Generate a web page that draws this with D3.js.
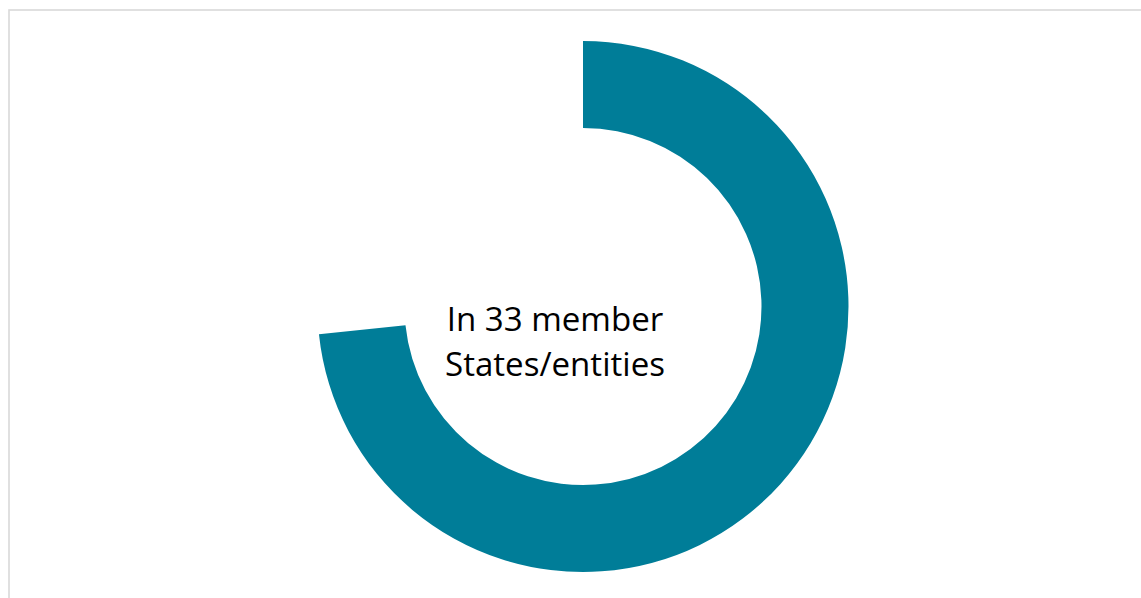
<!DOCTYPE html>
<html>
<head>
<meta charset="utf-8">
<script src="https://cdn.jsdelivr.net/npm/d3@7"></script>
<style>
  html, body { margin: 0; padding: 0; background: #ffffff; }
  svg { display: block; }
</style>
</head>
<body>
<svg id="chart" width="1141" height="598"></svg>
<script>
// Share of member States/entities (out of 45)
const categories = ["Member States/entities", "Remaining"];
const values = [33, 12];
const centerLines = ["In 33 member", "States/entities"];

const width = 1141, height = 598;
const svg = d3.select("#chart");

// Chart area frame (light grey, runs off the right and bottom edges)
svg.append("rect")
  .attr("x", 9).attr("y", 10)
  .attr("width", 1300).attr("height", 800)
  .attr("fill", "#ffffff")
  .attr("stroke", "#d9d9d9")
  .attr("stroke-width", 1.6);

const cx = 583, cy = 306.5;
const outerR = 265.5, innerR = 178.5;

const pie = d3.pie().sort(null).value(d => d.value).startAngle(0).endAngle(2 * Math.PI);
const arc = d3.arc().innerRadius(innerR).outerRadius(outerR);

const data = categories.map((c, i) => ({ category: c, value: values[i] }));
const colors = d3.scaleOrdinal().domain(categories).range(["#007d98", "none"]);

const g = svg.append("g").attr("transform", `translate(${cx},${cy})`);
g.selectAll("path")
  .data(pie(data))
  .join("path")
  .attr("d", arc)
  .attr("fill", d => colors(d.data.category));

// Centre label
const label = svg.append("g");
const lineY = [331, 376];
const labelX = 555;
const texts = label.selectAll("text")
  .data(centerLines)
  .join("text")
  .attr("x", labelX)
  .attr("y", (d, i) => lineY[i])
  .attr("text-anchor", "middle")
  .attr("font-family", "'Open Sans', 'Noto Sans', sans-serif")
  .attr("font-size", 28)
  .attr("fill", "#000000")
  .text(d => d);

// Size the label so the longer line spans about 220px
const node = texts.nodes()[1];
const w = node.getComputedTextLength();
const fs = 28 * 220 / w;
texts.attr("font-size", fs);
</script>
</body>
</html>
